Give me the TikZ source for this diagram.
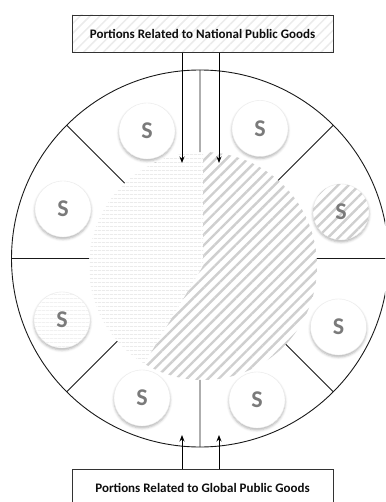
\documentclass[tikz,border=0pt]{standalone}
\usepackage{fontspec}
\setmainfont{Carlito}
\usetikzlibrary{arrows.meta,patterns.meta,shadows.blur,intersections}
\begin{document}
\begin{tikzpicture}[x=1pt,y=1pt,
  lbox/.style={draw=black!80, line width=0.9pt, minimum width=261pt, minimum height=37pt,
    inner sep=0pt, font=\bfseries\fontsize{13}{15}\selectfont, text=black!95},
  arr/.style={line width=0.9pt, -{Stealth[length=6.5pt,width=5pt]}},
  divider/.style={line width=0.9pt, black!90},
  snode/.style={circle, fill=white, draw=black!8, line width=0.4pt, minimum size=56pt, inner sep=0pt,
    font=\bfseries\fontsize{24}{24}\selectfont, text=black!52,
    blur shadow={shadow xshift=0pt, shadow yshift=-2pt, shadow blur radius=2.5pt, shadow opacity=30}},
  diaghatch/.style={pattern={Lines[angle=45,distance=7.5pt,line width=2.4pt]}, pattern color=black!19},
  horhatch/.style={pattern={Lines[angle=0,distance=4pt,line width=0.9pt]}, pattern color=black!8},
]
\useasboundingbox (0,0) rectangle (385,-502);
\begin{scope}
\clip (0,0) rectangle (385,-502);

\coordinate (O) at (200,-258.5);
\coordinate (P) at (203,-266);

% inner pie
\path[horhatch] (P) -- ++(90:114) arc[start angle=90, end angle=239, radius=114] -- cycle;
\path[diaghatch] (P) -- ++(239:114) arc[start angle=239, end angle=450, radius=114] -- cycle;
\path[name path=piec] (P) circle[radius=114];

% outer circle
\draw[line width=0.9pt, black!90] (O) circle[radius=188.5];

% dividers
\foreach \a in {0,45,...,315}{
  \path[name path=ray] (O) -- ++(\a:200);
  \path[name intersections={of=piec and ray, by=ie\a}];
  \draw[divider] (O) ++(\a:188.5) -- (ie\a);
}

% S circles
\node[snode] (s1) at (147,-131) {S};
\node[snode] (s2) at (260,-128.5) {S};
\node[snode, postaction={diaghatch}] (s3) at (341,-212) {S};
\node[snode] (s4) at (338.5,-327) {S};
\node[snode] (s5) at (257,-400) {S};
\node[snode] (s6) at (142,-398) {S};
\node[snode, postaction={horhatch}] (s7) at (62,-320) {S};
\node[snode] (s8) at (63,-209) {S};

% boxes
\node[lbox, pattern={Lines[angle=45,distance=7pt,line width=1.5pt]}, pattern color=black!8]
  (top) at (202.5,-33.5) {Portions Related to National Public Goods};
\node[lbox, fill=white] (bot) at (202.5,-488) {Portions Related to Global Public Goods};

% arrows
\coordinate (ta) at (182,-163);
\coordinate (tb) at (219,-163);
\coordinate (ba) at (182,-435);
\coordinate (bb) at (219,-435);
\draw[arr] (top.south -| ta) -- (ta);
\draw[arr] (top.south -| tb) -- (tb);
\draw[arr] (bot.north -| ba) -- (ba);
\draw[arr] (bot.north -| bb) -- (bb);
\end{scope}
\end{tikzpicture}
\end{document}
